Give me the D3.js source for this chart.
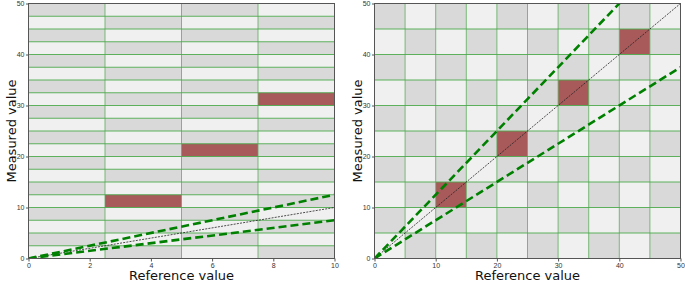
<!DOCTYPE html>
<html>
<head>
<meta charset="utf-8">
<script src="https://cdn.jsdelivr.net/npm/d3@7"></script>
<style>
  body { margin: 0; background: #fff; }
  svg { font-family: "DejaVu Sans", sans-serif; }
  .tick text { fill: #333; font-size: 7px; }
</style>
</head>
<body>
<script>
// left panel: reference 0-10, measured 0-50
var leftXDomain = [0, 10];
var leftYDomain = [0, 50];
var leftXTicks = [0, 2, 4, 6, 8, 10];
var leftYTicks = [0, 10, 20, 30, 40, 50];
var leftCellW = 2.5;
var leftCellH = 2.5;
var leftHighlightX = [2.5, 5, 7.5];
var leftHighlightY = [10, 20, 30];

// right panel: both axes 0-50
var rightXDomain = [0, 50];
var rightYDomain = [0, 50];
var rightXTicks = [0, 10, 20, 30, 40, 50];
var rightYTicks = [0, 10, 20, 30, 40, 50];
var rightCellW = 5;
var rightCellH = 5;
var rightHighlightX = [10, 20, 30, 40];
var rightHighlightY = [10, 20, 30, 40];

// tolerance lines
var bandSlopes = [0.75, 1.25];
var identitySlope = 1;

var w = 685, h = 283;

var svg = d3.select("body")
    .append("svg")
    .attr("width", w)
    .attr("height", h);

function drawPanel(opt) {
    var xScale = d3.scaleLinear().domain(opt.xDomain).range([opt.left, opt.right]);
    var yScale = d3.scaleLinear().domain(opt.yDomain).range([opt.bottom, opt.top]);

    var g = svg.append("g");
    var clipId = "clip" + Math.round(opt.left);
    g.append("clipPath").attr("id", clipId)
        .append("rect")
        .attr("x", opt.left).attr("y", opt.top)
        .attr("width", opt.right - opt.left).attr("height", opt.bottom - opt.top);

    var plot = g.append("g").attr("clip-path", "url(#" + clipId + ")");

    // checkerboard cells
    var cells = [];
    var nc = Math.round((opt.xDomain[1] - opt.xDomain[0]) / opt.cellW);
    var nr = Math.round((opt.yDomain[1] - opt.yDomain[0]) / opt.cellH);
    for (var c = 0; c < nc; c++) {
        for (var r = 0; r < nr; r++) {
            cells.push({ x: opt.xDomain[0] + c * opt.cellW, y: opt.yDomain[0] + r * opt.cellH, odd: (c + r) % 2 === 1 });
        }
    }
    plot.selectAll("rect.cell")
        .data(cells)
        .enter()
        .append("rect")
        .attr("class", "cell")
        .attr("x", function(d) { return xScale(d.x); })
        .attr("y", function(d) { return yScale(d.y + opt.cellH); })
        .attr("width", function(d) { return xScale(d.x + opt.cellW) - xScale(d.x); })
        .attr("height", function(d) { return yScale(d.y) - yScale(d.y + opt.cellH); })
        .attr("fill", function(d) { return d.odd ? "#d9d9d9" : "#f0f0f0"; });

    // highlighted cells
    plot.selectAll("rect.hi")
        .data(opt.hx)
        .enter()
        .append("rect")
        .attr("class", "hi")
        .attr("x", function(d) { return xScale(d); })
        .attr("y", function(d, i) { return yScale(opt.hy[i] + opt.cellH); })
        .attr("width", function(d) { return xScale(d + opt.cellW) - xScale(d); })
        .attr("height", function(d, i) { return yScale(opt.hy[i]) - yScale(opt.hy[i] + opt.cellH); })
        .attr("fill", "#a85a5a");

    // green grid lines at cell edges
    plot.selectAll("line.vg")
        .data(d3.range(1, nc))
        .enter()
        .append("line")
        .attr("x1", function(d) { return xScale(opt.xDomain[0] + d * opt.cellW); })
        .attr("x2", function(d) { return xScale(opt.xDomain[0] + d * opt.cellW); })
        .attr("y1", opt.top).attr("y2", opt.bottom)
        .attr("stroke", "#5aab5a")
        .attr("stroke-opacity", 0.8)
        .attr("stroke-width", 1);
    plot.selectAll("line.hg")
        .data(d3.range(1, nr))
        .enter()
        .append("line")
        .attr("y1", function(d) { return yScale(opt.yDomain[0] + d * opt.cellH); })
        .attr("y2", function(d) { return yScale(opt.yDomain[0] + d * opt.cellH); })
        .attr("x1", opt.left).attr("x2", opt.right)
        .attr("stroke", "#4caa4c")
        .attr("stroke-opacity", 0.9)
        .attr("stroke-width", 1);

    // identity line
    var x0 = opt.xDomain[0], x1 = opt.xDomain[1];
    plot.append("line")
        .attr("x1", xScale(x0)).attr("y1", yScale(identitySlope * x0))
        .attr("x2", xScale(x1)).attr("y2", yScale(identitySlope * x1))
        .attr("stroke", "#222")
        .attr("stroke-width", 0.8)
        .attr("stroke-dasharray", "2,1.2");

    // tolerance band lines
    plot.selectAll("line.band")
        .data(bandSlopes)
        .enter()
        .append("line")
        .attr("x1", xScale(x0)).attr("y1", function(d) { return yScale(d * x0); })
        .attr("x2", xScale(x1)).attr("y2", function(d) { return yScale(d * x1); })
        .attr("stroke", "#008000")
        .attr("stroke-width", 2.6)
        .attr("stroke-dasharray", "8,4");

    // spines
    g.append("rect")
        .attr("x", opt.left).attr("y", opt.top)
        .attr("width", opt.right - opt.left).attr("height", opt.bottom - opt.top)
        .attr("fill", "none")
        .attr("stroke", "#555")
        .attr("stroke-width", 1);

    var xAxis = d3.axisBottom().scale(xScale).tickValues(opt.xTicks).tickSize(3).tickPadding(2);
    var yAxis = d3.axisLeft().scale(yScale).tickValues(opt.yTicks).tickSize(2.5).tickPadding(1.5);

    var gx = g.append("g")
        .attr("class", "x axis")
        .attr("transform", "translate(0, " + opt.bottom + ")")
        .call(xAxis);
    var gy = g.append("g")
        .attr("class", "y axis")
        .attr("transform", "translate(" + opt.left + ", 0)")
        .call(yAxis);
    [gx, gy].forEach(function(a) {
        a.select(".domain").remove();
        a.selectAll(".tick line").attr("stroke", "#555");
    });

    // X axis label
    g.append("text")
        .attr("text-anchor", "middle")
        .attr("x", (opt.left + opt.right) / 2)
        .attr("y", 280)
        .attr("font-size", "13px")
        .attr("fill", "#111")
        .text("Reference value");

    // Y axis label
    g.append("text")
        .attr("text-anchor", "middle")
        .attr("transform", "rotate(-90)")
        .attr("x", -(opt.top + opt.bottom) / 2)
        .attr("y", opt.left - 12.5)
        .attr("font-size", "13px")
        .attr("fill", "#111")
        .text("Measured value");
}

drawPanel({
    xDomain: leftXDomain, yDomain: leftYDomain,
    xTicks: leftXTicks, yTicks: leftYTicks,
    cellW: leftCellW, cellH: leftCellH,
    hx: leftHighlightX, hy: leftHighlightY,
    left: 28.5, right: 334.5, top: 3.5, bottom: 258.5
});

drawPanel({
    xDomain: rightXDomain, yDomain: rightYDomain,
    xTicks: rightXTicks, yTicks: rightYTicks,
    cellW: rightCellW, cellH: rightCellH,
    hx: rightHighlightX, hy: rightHighlightY,
    left: 374.5, right: 680.5, top: 3.5, bottom: 258.5
});
</script>
</body>
</html>
